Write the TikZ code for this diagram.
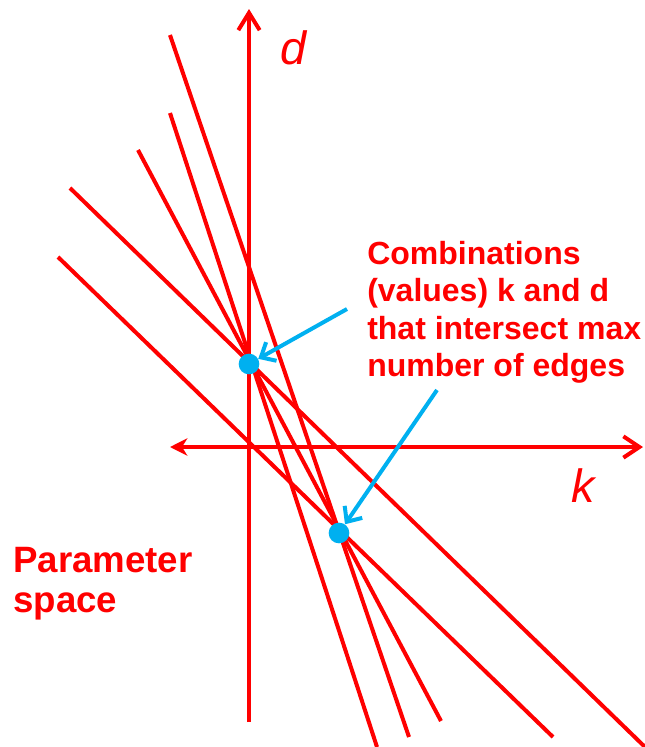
\documentclass[tikz,border=0pt]{standalone}
\usepackage{fontspec}
\setmainfont{Liberation Sans}
\usetikzlibrary{arrows.meta}
\definecolor{hred}{HTML}{FF0000}
\definecolor{hblue}{HTML}{00B0F0}

\begin{document}
\begin{tikzpicture}[x=0.75pt, y=-0.75pt,
  houghline/.style={draw=hred, line width=3pt},
  axisline/.style={draw=hred, line width=3pt},
  axislabel/.style={text=hred, inner sep=0pt, font=\itshape\fontsize{35}{35}\selectfont},
  pointer/.style={draw=hblue, line width=3pt, -{Straight Barb[length=9pt, width=16pt, line width=3pt]}},
  vote/.style={circle, fill=hblue, inner sep=0pt, minimum size=15.5pt},
  note/.style={text=hred, inner sep=0pt, anchor=north west, align=left}]
  \useasboundingbox (0,0) rectangle (645,747);

  % lines in parameter space
  \draw[houghline] (170,35) -- (409,737);
  \draw[houghline] (170,113) -- (377,747);
  \draw[houghline] (138,150) -- (441,721);
  \draw[houghline] (70,188) -- (645,747);
  \draw[houghline] (58,257) -- (553,737);

  % axes
  \draw[axisline, -{Straight Barb[length=13pt, width=16pt, line width=3pt]}] (249,722) -- (249,9);
  \draw[axisline, {Stealth[length=13pt, width=13pt, inset=4pt]}-{Straight Barb[length=12pt, width=16pt, line width=3pt]}] (170,447) -- (643,447);
  \node[axislabel] (dlab) at (293,48) {d};
  \node[axislabel] (klab) at (583,486) {k};

  % maxima
  \node[vote] (peakA) at (249,364) {};
  \node[vote] (peakB) at (339,533) {};

  % texts and pointers
  \node[note, font=\bfseries\fontsize{24}{28}\selectfont] (combo) at (367,241)
    {Combinations\\(values) k and d\\that intersect max\\number of edges};
  \node[note, font=\bfseries\fontsize{27.5}{30}\selectfont] (pspace) at (13,547)
    {Parameter\\space};
  \coordinate (fromA) at (347,309);
  \coordinate (fromB) at (437,390);
  \draw[pointer] (fromA) -- (peakA);
  \draw[pointer] (fromB) -- (peakB);
\end{tikzpicture}
\end{document}
